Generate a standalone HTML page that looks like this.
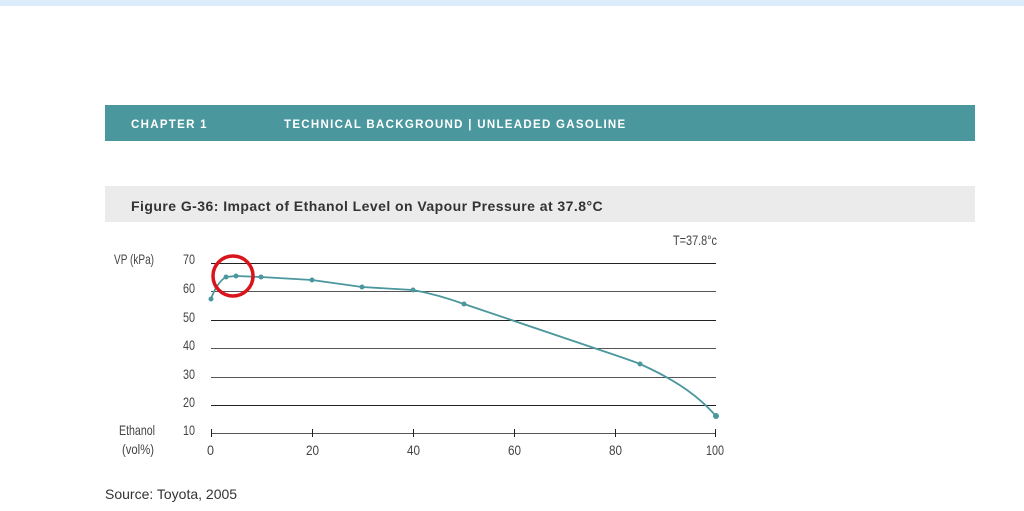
<!DOCTYPE html>
<html><head><meta charset="utf-8"><style>
html,body{margin:0;padding:0;background:#fff;width:1024px;height:511px;overflow:hidden;font-family:"Liberation Sans",sans-serif}
.top{position:absolute;left:0;top:0;width:1024px;height:6px;background:#dcecfb}
.hdr{position:absolute;left:105px;top:105px;width:870px;height:36px;background:#4a979d;color:#fff;font-weight:bold;font-size:11.5px;letter-spacing:1.3px}
.hdr span{position:absolute;top:14px}
.fig{position:absolute;left:105px;top:186px;width:870px;height:36px;background:#ebebeb;color:#333;font-weight:bold;font-size:14px;letter-spacing:0.45px}
.fig span{position:absolute;left:26px;top:12px}
.src{position:absolute;left:105px;top:486px;font-size:14px;color:#333}
svg{position:absolute;left:0;top:0}
</style></head><body>
<div class="top"></div>
<div class="hdr"><span style="left:26px">CHAPTER 1</span><span style="left:179px">TECHNICAL BACKGROUND | UNLEADED GASOLINE</span></div>
<div class="fig"><span>Figure G-36: Impact of Ethanol Level on Vapour Pressure at 37.8°C</span></div>
<svg width="1024" height="511" viewBox="0 0 1024 511">
<g stroke="#222" stroke-width="1">
<line x1="211" y1="263.5" x2="716" y2="263.5"/>
<line x1="211" y1="291.5" x2="716" y2="291.5" stroke="#555"/>
<line x1="211" y1="320.5" x2="716" y2="320.5"/>
<line x1="211" y1="348.5" x2="716" y2="348.5" stroke="#555"/>
<line x1="211" y1="377.5" x2="716" y2="377.5" stroke="#555"/>
<line x1="211" y1="405.5" x2="716" y2="405.5"/>
<line x1="211" y1="433.5" x2="716" y2="433.5" stroke="#555"/>
<line x1="211.5" y1="429" x2="211.5" y2="437"/>
<line x1="312.5" y1="429" x2="312.5" y2="437"/>
<line x1="413.5" y1="429" x2="413.5" y2="437"/>
<line x1="514.5" y1="429" x2="514.5" y2="437"/>
<line x1="615.5" y1="429" x2="615.5" y2="437"/>
<line x1="715.5" y1="429" x2="715.5" y2="437"/>
</g>
<g font-family="Liberation Sans Narrow, Liberation Sans, sans-serif" font-size="14" fill="#444">
<text x="114" y="264" textLength="40" lengthAdjust="spacingAndGlyphs">VP (kPa)</text>
<text x="119" y="435" textLength="36" lengthAdjust="spacingAndGlyphs">Ethanol</text>
<text x="122" y="454" textLength="32" lengthAdjust="spacingAndGlyphs">(vol%)</text>
<text x="183" y="264" textLength="12" lengthAdjust="spacingAndGlyphs">70</text>
<text x="183" y="293" textLength="12" lengthAdjust="spacingAndGlyphs">60</text>
<text x="183" y="322" textLength="12" lengthAdjust="spacingAndGlyphs">50</text>
<text x="183" y="350" textLength="12" lengthAdjust="spacingAndGlyphs">40</text>
<text x="183" y="379" textLength="12" lengthAdjust="spacingAndGlyphs">30</text>
<text x="183" y="407" textLength="12" lengthAdjust="spacingAndGlyphs">20</text>
<text x="183" y="435" textLength="12" lengthAdjust="spacingAndGlyphs">10</text>
<text x="207" y="455" textLength="7" lengthAdjust="spacingAndGlyphs">0</text>
<text x="306" y="455" textLength="13" lengthAdjust="spacingAndGlyphs">20</text>
<text x="407" y="455" textLength="13" lengthAdjust="spacingAndGlyphs">40</text>
<text x="508" y="455" textLength="13" lengthAdjust="spacingAndGlyphs">60</text>
<text x="609" y="455" textLength="13" lengthAdjust="spacingAndGlyphs">80</text>
<text x="706" y="455" textLength="18" lengthAdjust="spacingAndGlyphs">100</text>
<text x="673" y="245" textLength="44" lengthAdjust="spacingAndGlyphs">T=37.8°c</text>
</g>
<path d="M211,299 C214,290 220,280 226,277 L236,276 L261,277 L312,280 L362,287 L413,290 C435,294 450,299 464,304 L600,350 C615,355 630,360 640,364 C680,382 700,398 716,416" fill="none" stroke="#4a979d" stroke-width="1.8" stroke-linejoin="round"/>
<g fill="#4a979d">
<circle cx="211" cy="299" r="2.5"/><circle cx="226" cy="277" r="2.5"/><circle cx="236" cy="276" r="2.5"/>
<circle cx="261" cy="277" r="2.5"/><circle cx="312" cy="280" r="2.5"/><circle cx="362" cy="287" r="2.5"/>
<circle cx="413" cy="290" r="2.5"/><circle cx="464" cy="304" r="2.5"/><circle cx="640" cy="364" r="2.5"/>
<circle cx="716" cy="416" r="3"/>
</g>
<circle cx="233" cy="276" r="20" fill="none" stroke="#d9141b" stroke-width="3.5"/>
</svg>
<div class="src">Source: Toyota, 2005</div>
</body></html>
